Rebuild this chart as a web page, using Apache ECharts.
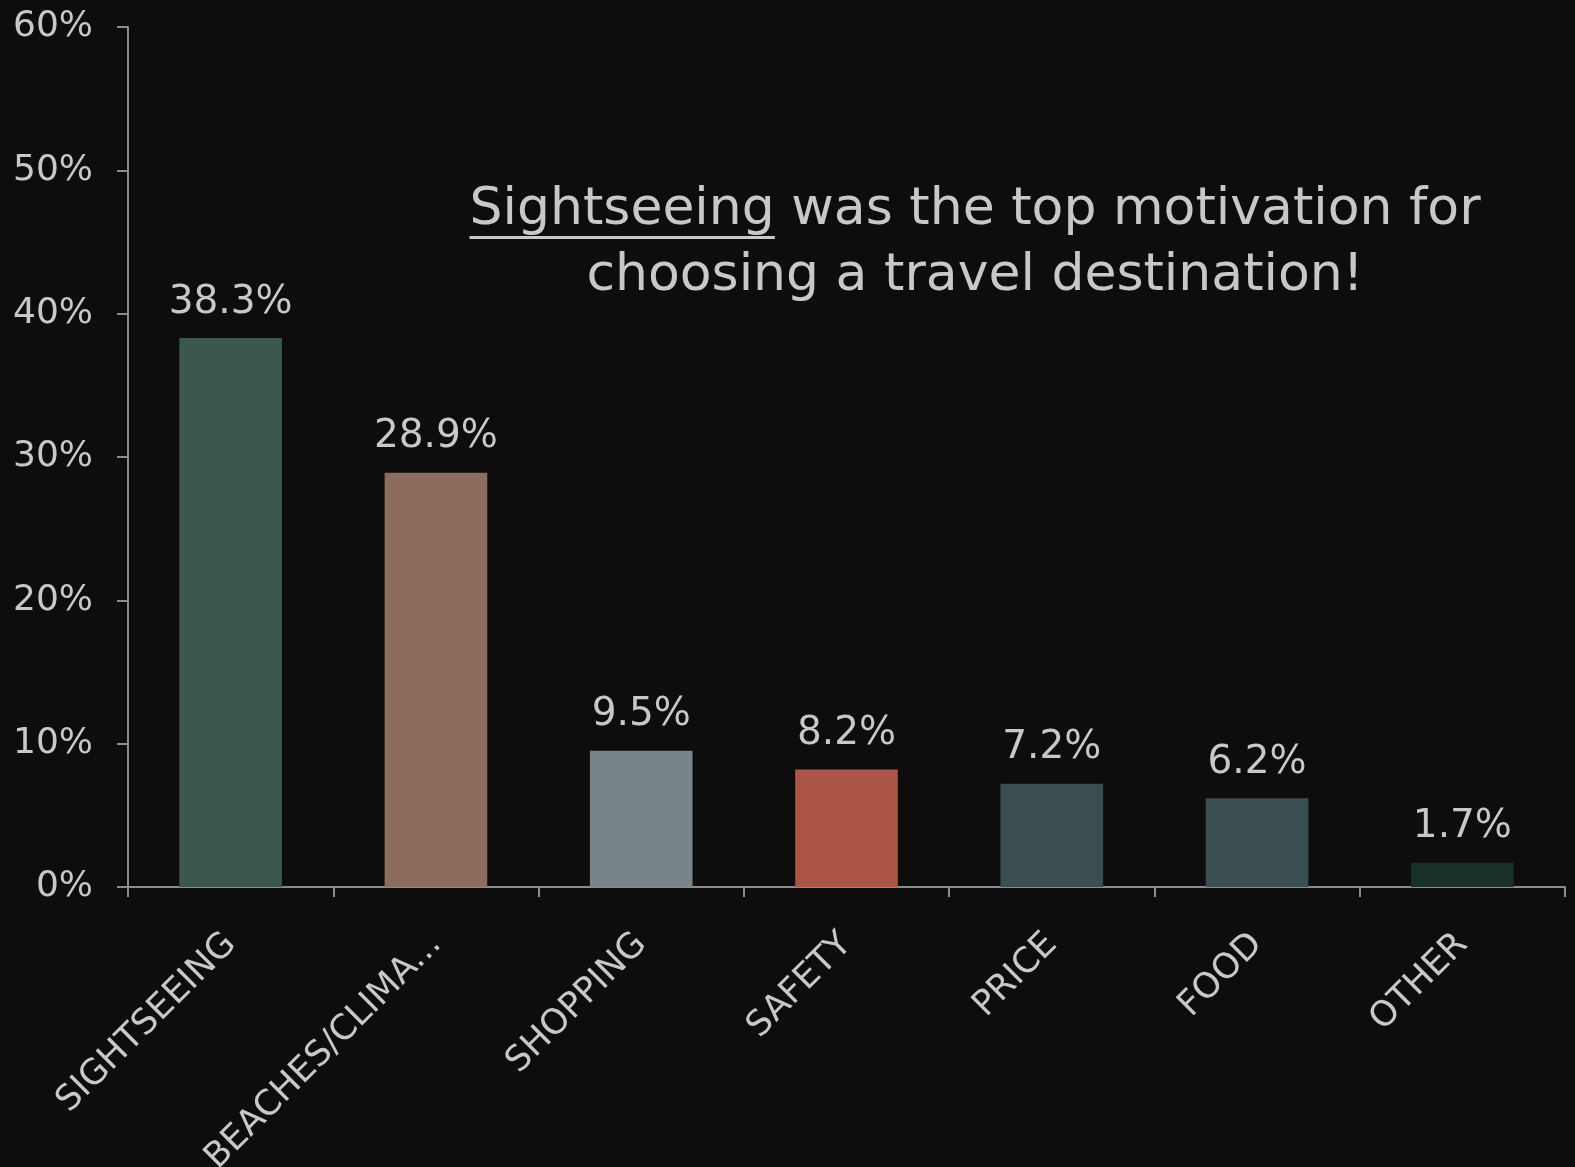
<!DOCTYPE html>
<html>
<head>
<meta charset="utf-8">
<script src="https://cdn.jsdelivr.net/npm/echarts@6/dist/echarts.min.js"></script>
<style>
  html, body { margin: 0; padding: 0; background: #0d0d0d; }
  #main { width: 1575px; height: 1167px; }
</style>
</head>
<body>
<div id="main"></div>
<script>
// motivations for choosing a travel destination
const categories = ["SIGHTSEEING", "BEACHES/CLIMA...", "SHOPPING", "SAFETY", "PRICE", "FOOD", "OTHER"];
const shares = [38.3, 28.9, 9.5, 8.2, 7.2, 6.2, 1.7];
const barColors = ["#3c574f", "#8c6c5c", "#77858a", "#ac5446", "#3b4d51", "#3b4e51", "#19302a"];
const yTicks = [0, 10, 20, 30, 40, 50, 60];

const fontFamily = "DejaVu Sans";
const textColor = "#c8c8c8";
const axisColor = "#8c8c8c";

const titleLine1 = "Sightseeing was the top motivation for";
const titleLine2 = "choosing a travel destination!";
const titleFont = "52px " + fontFamily;
const titleX = 975;

// work out where the underline under "Sightseeing" goes
const ctx = document.createElement("canvas").getContext("2d");
ctx.font = titleFont;
const fullW = ctx.measureText(titleLine1).width;
const wordW = ctx.measureText("Sightseeing").width;
const ulStart = titleX - fullW / 2;

let chart = echarts.init(document.getElementById("main"));

let option = {
  backgroundColor: "#0d0d0d",
  animation: false,
  grid: { left: 128, right: 10, top: 27, bottom: 280, outerBoundsMode: "none", containLabel: false },
  xAxis: {
    type: "category",
    data: categories,
    axisLine: { lineStyle: { color: axisColor, width: 2 } },
    axisTick: { show: true, length: 10, lineStyle: { color: axisColor, width: 2 } },
    axisLabel: {
      rotate: 45,
      interval: 0,
      margin: 52,
      color: textColor,
      fontFamily: fontFamily,
      fontSize: 35,
    },
  },
  yAxis: {
    type: "value",
    min: yTicks[0],
    max: yTicks[yTicks.length - 1],
    interval: 10,
    splitLine: { show: false },
    axisLine: { show: true, lineStyle: { color: axisColor, width: 2 } },
    axisTick: { show: true, length: 11, lineStyle: { color: axisColor, width: 2 } },
    axisLabel: {
      margin: 35,
      color: textColor,
      fontFamily: fontFamily,
      fontSize: 36,
      formatter: "{value}%",
    },
  },
  series: [
    {
      type: "bar",
      barWidth: "50%",
      data: shares.map((v, i) => ({ value: v, itemStyle: { color: barColors[i] } })),
      label: {
        show: true,
        position: "top",
        distance: 16,
        color: textColor,
        fontFamily: fontFamily,
        fontSize: 39,
        formatter: (p) => p.value + "%",
      },
    },
  ],
  graphic: [
    {
      type: "text",
      x: titleX,
      y: 177,
      style: {
        text: titleLine1 + "\n" + titleLine2,
        font: titleFont,
        fill: textColor,
        align: "center",
        verticalAlign: "top",
        lineHeight: 66,
      },
    },
    {
      type: "rect",
      shape: { x: ulStart, y: 236, width: wordW, height: 3 },
      style: { fill: textColor },
    },
  ],
};

chart.setOption(option);
</script>
</body>
</html>
